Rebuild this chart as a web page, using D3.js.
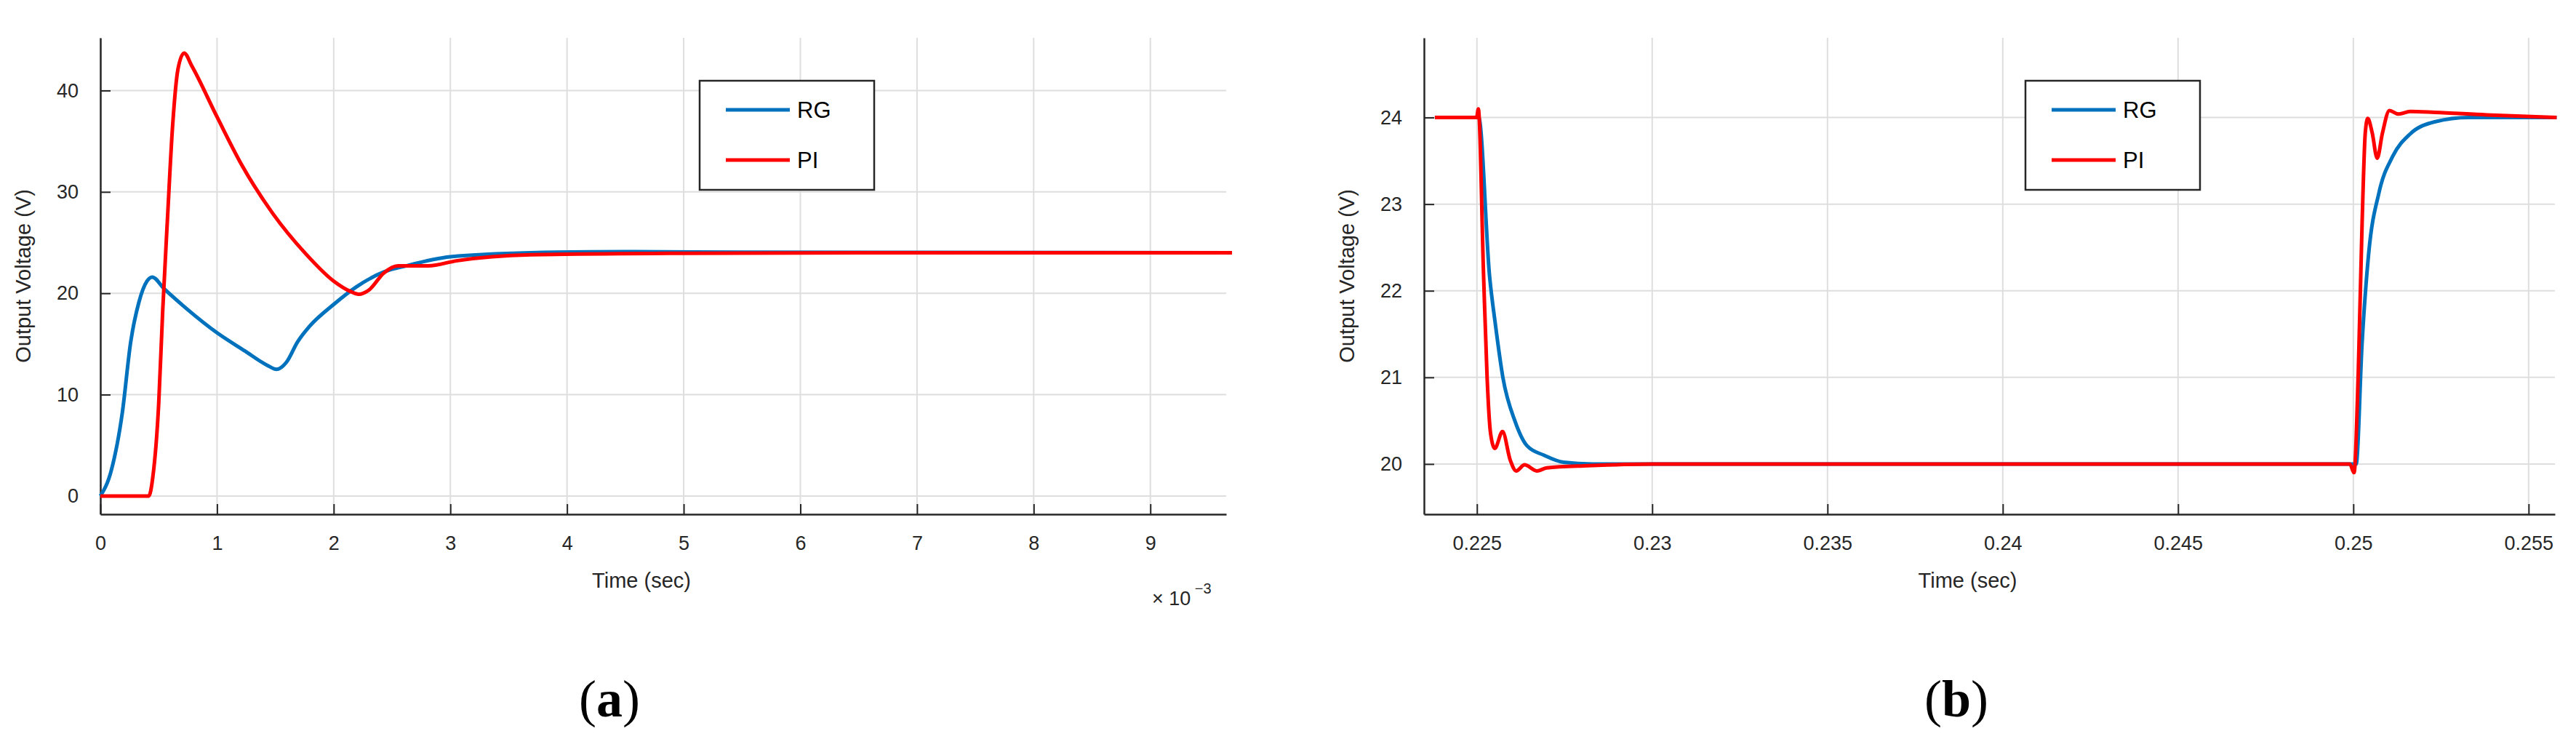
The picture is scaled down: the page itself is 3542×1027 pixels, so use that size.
<!DOCTYPE html>
<html>
<head>
<meta charset="utf-8">
<script src="https://cdn.jsdelivr.net/npm/d3@7"></script>
<style>
  body { margin: 0; background: #fff; }
  svg text { font-family: "Liberation Sans", Arial, sans-serif; fill: #262626; }
  svg text.caption { font-family: "Liberation Serif", "Times New Roman", serif; fill: #000; }
</style>
</head>
<body>
<svg id="chart" width="3542" height="1027"></svg>
<script>
// panel (a): start-up, time in ms (axis shows x 10^-3)
const A_RG_T = [0, 0.093, 0.188, 0.26, 0.33, 0.40, 0.444, 0.546, 0.737, 1.0, 1.24, 1.43, 1.51, 1.595, 1.69, 1.79, 2.0, 2.19, 2.43, 2.62, 3.0, 3.69, 4.5, 5.5, 9.7];
const A_RG_V = [0, 2.5, 8.2, 15.2, 19.1, 21.2, 21.6, 20.45, 18.5, 16.1, 14.3, 12.9, 12.5, 13.2, 15.2, 16.7, 18.9, 20.6, 22.1, 22.7, 23.6, 24.0, 24.1, 24.05, 24.0];
const A_PI_T = [0, 0.415, 0.45, 0.50, 0.534, 0.575, 0.618, 0.665, 0.718, 0.785, 1.0, 1.21, 1.476, 1.76, 2.0, 2.14, 2.215, 2.30, 2.43, 2.55, 2.81, 3.05, 3.69, 5.0, 6.5, 9.7];
const A_PI_V = [0, 0, 1.9, 9.1, 18.2, 27.3, 36.3, 42.1, 43.7, 42.4, 37.4, 32.7, 27.9, 23.9, 21.2, 20.2, 19.9, 20.3, 22.0, 22.7, 22.7, 23.2, 23.8, 23.95, 24.0, 24.0];
const A_XTICKS = [0, 1, 2, 3, 4, 5, 6, 7, 8, 9];
const A_YTICKS = [0, 10, 20, 30, 40];

// panel (b): load step, time in s
const B_RG_T = [0.2238, 0.22505, 0.22536, 0.22553, 0.22574, 0.22609, 0.22643, 0.22692, 0.22747, 0.2283, 0.235, 0.25008, 0.25025, 0.25044, 0.25073, 0.25112, 0.25162, 0.25232, 0.2533, 0.2558];
const B_RG_V = [24, 24.0, 22.17, 21.6, 21.0, 20.49, 20.21, 20.1, 20.02, 20.0, 20.0, 20.0, 21.4, 22.44, 23.13, 23.55, 23.81, 23.95, 24.0, 24.0];
const B_PI_T = [0.2238, 0.22499, 0.22504, 0.22519, 0.22529, 0.22539, 0.22551, 0.22573, 0.22595, 0.22612, 0.22636, 0.22671, 0.22699, 0.22816, 0.23, 0.2499, 0.25002, 0.25014, 0.25025, 0.25034, 0.25041, 0.25054, 0.25068, 0.25083, 0.25103, 0.25128, 0.25162, 0.25232, 0.2538, 0.2558];
const B_PI_V = [24, 24, 24.1, 22.17, 21.0, 20.35, 20.18, 20.375, 20.045, 19.92, 19.99, 19.92, 19.955, 19.98, 20.0, 20.0, 19.9, 21.05, 22.78, 23.82, 23.99, 23.82, 23.53, 23.82, 24.08, 24.04, 24.07, 24.06, 24.03, 24.0];
const B_XTICKS = [0.225, 0.23, 0.235, 0.24, 0.245, 0.25, 0.255];
const B_YTICKS = [20, 21, 22, 23, 24];

const SERIES_NAMES = ['RG', 'PI'];
const COLORS = ['#0072BD', '#FF0000'];

const svg = d3.select('#chart');
const TOP = 52, BOTTOM = 707;

function panel(opt) {
    const X = d3.scaleLinear().domain(opt.xDomain).range([opt.left, opt.right]);
    const Y = d3.scaleLinear().domain(opt.yDomain).range([BOTTOM, TOP]);
    const g = svg.append('g');

    // grid
    g.selectAll('.gx').data(opt.xTicks).enter().append('line')
        .attr('x1', d => X(d)).attr('x2', d => X(d)).attr('y1', TOP).attr('y2', BOTTOM)
        .attr('stroke', '#dedede').attr('stroke-width', 2);
    g.selectAll('.gy').data(opt.yTicks).enter().append('line')
        .attr('x1', opt.left).attr('x2', opt.right).attr('y1', d => Y(d)).attr('y2', d => Y(d))
        .attr('stroke', '#dedede').attr('stroke-width', 2);

    // axes
    const ax = g.append('g').attr('transform', 'translate(0,' + BOTTOM + ')')
        .call(d3.axisBottom(X).tickValues(opt.xTicks).tickFormat(opt.xFormat).tickSizeInner(-14).tickSizeOuter(0).tickPadding(30));
    const ay = g.append('g').attr('transform', 'translate(' + opt.left + ',0)')
        .call(d3.axisLeft(Y).tickValues(opt.yTicks).tickFormat(d3.format('d')).tickSizeInner(-14).tickSizeOuter(0).tickPadding(30));
    [ax, ay].forEach(a => {
        a.select('.domain').attr('stroke', '#262626').attr('stroke-width', 2.5);
        a.selectAll('.tick line').attr('stroke', '#262626').attr('stroke-width', 2);
        a.selectAll('.tick text').attr('font-size', 27).attr('fill', '#262626');
    });

    // lines
    const line = d3.line().x(d => X(d[0])).y(d => Y(d[1])).curve(d3.curveMonotoneX);
    opt.series.forEach((s, i) => {
        g.append('path').datum(d3.zip(s[0], s[1]))
            .attr('d', line).attr('fill', 'none')
            .attr('stroke', COLORS[i]).attr('stroke-width', 5).attr('stroke-linejoin', 'round');
    });

    // labels
    g.append('text').attr('x', (opt.left + opt.right) / 2 - 30).attr('y', 808)
        .attr('text-anchor', 'middle').attr('font-size', 29).text('Time (sec)');
    g.append('text').attr('transform', 'translate(' + opt.ylabX + ',' + (TOP + BOTTOM) / 2 + ') rotate(-90)')
        .attr('text-anchor', 'middle').attr('font-size', 29).text('Output Voltage (V)');

    // legend
    const L = opt.legend;
    g.append('rect').attr('x', L.x).attr('y', 111).attr('width', 240).attr('height', 150)
        .attr('fill', '#fff').attr('stroke', '#262626').attr('stroke-width', 2.5);
    SERIES_NAMES.forEach((n, i) => {
        const yy = 151 + i * 69;
        g.append('line').attr('x1', L.x + 36).attr('x2', L.x + 124).attr('y1', yy).attr('y2', yy)
            .attr('stroke', COLORS[i]).attr('stroke-width', 5);
        g.append('text').attr('x', L.x + 134).attr('y', yy + 11).attr('font-size', 31).style('fill', '#000').text(n);
    });

    // caption
    const cap = g.append('text').attr('class', 'caption').attr('x', opt.capX).attr('y', 985)
        .attr('text-anchor', 'middle').attr('font-size', 72);
    cap.append('tspan').text('(');
    cap.append('tspan').attr('font-weight', 'bold').text(opt.cap);
    cap.append('tspan').text(')');
    return g;
}

const ga = panel({
    left: 138, right: 1686, xDomain: [0, 9.65], yDomain: [-1.8, 45.2],
    xTicks: A_XTICKS, yTicks: A_YTICKS, xFormat: d3.format('d'),
    series: [[A_RG_T, A_RG_V], [A_PI_T, A_PI_V]],
    ylabX: 42, legend: {x: 962}, capX: 838, cap: 'a'
});
// exponent label
const ex = ga.append('text').attr('x', 1584).attr('y', 832).attr('font-size', 27);
ex.append('tspan').text('\u00d7 10');
ex.append('tspan').attr('dy', -16).attr('font-size', 20).text(' \u22123');

panel({
    left: 1958, right: 3513, xDomain: [0.22349, 0.25575], yDomain: [19.42, 24.92],
    xTicks: B_XTICKS, yTicks: B_YTICKS, xFormat: d => String(+d.toFixed(3)),
    series: [[B_RG_T, B_RG_V], [B_PI_T, B_PI_V]],
    ylabX: 1862, legend: {x: 2785}, capX: 2690, cap: 'b'
});
</script>
</body>
</html>
